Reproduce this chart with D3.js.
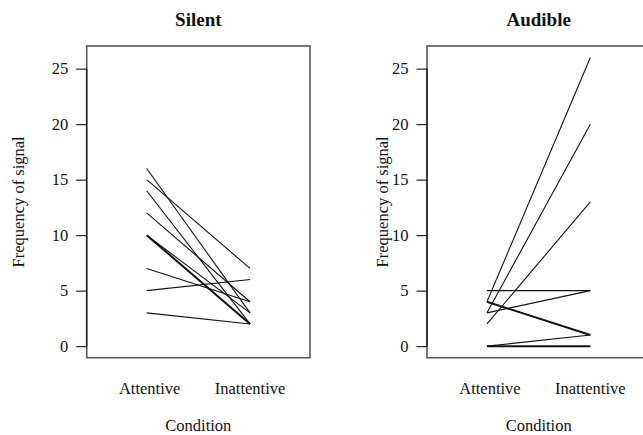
<!DOCTYPE html>
<html>
<head>
<meta charset="utf-8">
<script src="https://cdn.jsdelivr.net/npm/d3@7"></script>
<style>
  html, body { margin: 0; padding: 0; background: #fff; }
  svg { display: block; }
  svg text { font-family: "Liberation Serif", "Times New Roman", serif !important; }
</style>
</head>
<body>
<svg id="chart" width="643" height="435"></svg>
<script>
// ---- data ----
const conditions = ["Attentive", "Inattentive"];
const panelTitles = ["Silent", "Audible"];
const silentAttentive   = [16, 15, 14, 12, 10, 10, 10, 7, 5, 3];
const silentInattentive = [ 3,  7,  2,  4,  2,  2,  3, 4, 6, 2];
const audibleAttentive   = [ 4,  3,  2, 5, 3, 4, 4, 0, 0, 0];
const audibleInattentive = [26, 20, 13, 5, 5, 1, 1, 1, 0, 0];
const yTicks = [0, 5, 10, 15, 20, 25];
const yLabel = "Frequency of signal";
const xLabel = "Condition";

const panels = [
  { title: panelTitles[0], a: silentAttentive, b: silentInattentive },
  { title: panelTitles[1], a: audibleAttentive, b: audibleInattentive }
];

const svg = d3.select("#chart");
const boxW = 223.3, boxTop = 46, boxBottom = 357.7;
const panelLeft = [86.7, 427.0];
const yLabelX = [24, 388];

panels.forEach((p, i) => {
  const x0 = panelLeft[i];
  const x = d3.scaleLinear().domain([0.42, 2.58]).range([x0, x0 + boxW]);
  const y = d3.scaleLinear().domain([-1.04, 27.04]).range([boxBottom, boxTop]);
  const g = svg.append("g");

  // subject lines
  const pairs = p.a.map((v, k) => [v, p.b[k]]);
  const counts = d3.rollup(pairs, v => v.length, d => d.join("-"));
  const line = d3.line().x((d, k) => x(k + 1)).y(d => y(d));
  const seen = new Set();
  pairs.forEach(pr => {
    const key = pr.join("-");
    if (seen.has(key)) return;
    seen.add(key);
    const c = counts.get(key);
    g.append("path")
      .attr("d", line(pr))
      .attr("fill", "none")
      .attr("stroke", "#111")
      .attr("stroke-width", c > 1 ? 2.0 : 1.1);
  });

  // box
  g.append("rect")
    .attr("x", x0).attr("y", boxTop)
    .attr("width", boxW).attr("height", boxBottom - boxTop)
    .attr("fill", "none").attr("stroke", "#555").attr("stroke-width", 1.6);

  // y axis
  const yAxis = d3.axisLeft(y).tickValues(yTicks).tickSize(10.5).tickPadding(8);
  const ax = g.append("g").attr("transform", `translate(${x0},0)`).call(yAxis);
  ax.attr("font-family", null);
  ax.select(".domain").attr("d", `M0,${y(0)}V${y(25)}`).attr("stroke", "#111").attr("stroke-width", 1.2);
  ax.selectAll(".tick line").attr("stroke", "#111").attr("stroke-width", 1.1);
  ax.selectAll(".tick text")
    .attr("font-size", 16.5)
    .attr("fill", "#111");

  // x tick labels
  g.selectAll("text.xl").data(conditions).enter().append("text")
    .attr("class", "xl")
    .attr("x", (d, k) => x(k + 1) + (k === 0 ? 3 : 0))
    .attr("y", 394)
    .attr("text-anchor", "middle")
    .attr("font-size", 16.5)
    .attr("fill", "#111")
    .text(d => d);

  // x label
  g.append("text")
    .attr("x", x0 + boxW / 2).attr("y", 431)
    .attr("text-anchor", "middle").attr("font-size", 16.5).attr("fill", "#111")
    .text(xLabel);

  // y label
  g.append("text")
    .attr("transform", `translate(${yLabelX[i]},${(boxTop + boxBottom) / 2}) rotate(-90)`)
    .attr("text-anchor", "middle").attr("font-size", 16.5).attr("fill", "#111")
    .text(yLabel);

  // title
  g.append("text")
    .attr("x", x0 + boxW / 2).attr("y", 26)
    .attr("text-anchor", "middle").attr("font-size", 19).attr("font-weight", "bold").attr("fill", "#111")
    .text(p.title);
});
</script>
</body>
</html>
